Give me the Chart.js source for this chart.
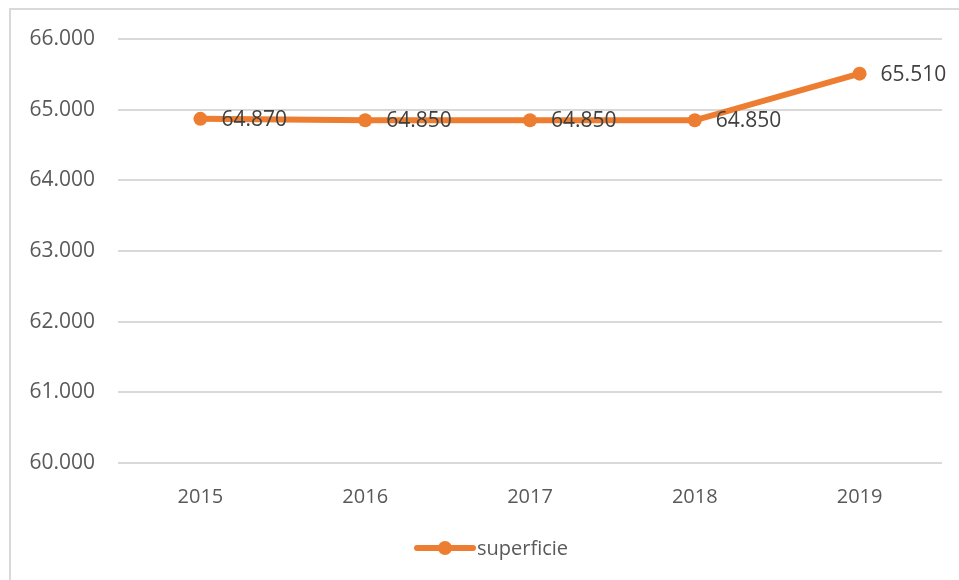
<!DOCTYPE html>
<html>
<head>
<meta charset="utf-8">
<script src="https://cdn.jsdelivr.net/npm/chart.js@4/dist/chart.umd.min.js"></script>
<style>
  html, body { margin: 0; padding: 0; background: #fff; }
  .wrap { position: relative; width: 959px; height: 580px; overflow: hidden; }
  .frame { position: absolute; left: 9px; top: 8px; width: 1000px; height: 700px;
           border-left: 2px solid #d9d9d9; border-top: 2px solid #d9d9d9; }
  canvas { position: absolute; left: 0; top: 0; }
</style>
</head>
<body>
<div class="wrap">
  <div class="frame"></div>
  <canvas id="myChart" width="959" height="580"></canvas>
</div>
<script>
'use strict'

// DATA
var years = ['2015', '2016', '2017', '2018', '2019'];
var superficie = [64870, 64850, 64850, 64850, 65510];
var yTicks = [60000, 61000, 62000, 63000, 64000, 65000, 66000];
var seriesName = 'superficie';

var orange = '#ED7D31';
var fontName = "'Open Sans', 'DejaVu Sans', sans-serif";

// 64870 -> "64.870"
function fmt(v) {
	var s = Math.round(v).toString();
	return s.replace(/\B(?=(\d{3})+(?!\d))/g, '.');
}

// etichette dei valori accanto ai punti
var valueLabels = {
	id: 'valueLabels',
	afterDatasetsDraw: function(chart) {
		var ctx = chart.ctx;
		var meta = chart.getDatasetMeta(0);
		ctx.save();
		ctx.font = '21px ' + fontName;
		ctx.fillStyle = '#404040';
		ctx.textAlign = 'left';
		ctx.textBaseline = 'middle';
		meta.data.forEach(function(pt, i) {
			ctx.fillText(fmt(chart.data.datasets[0].data[i]), pt.x + 21, pt.y + 1);
		});
		ctx.restore();
	}
};

// legenda in basso: linea + cerchio + testo
var bottomLegend = {
	id: 'bottomLegend',
	afterDraw: function(chart) {
		var ctx = chart.ctx;
		var y = 548;
		var x0 = 417, x1 = 473;
		ctx.save();
		ctx.strokeStyle = orange;
		ctx.lineWidth = 6;
		ctx.lineCap = 'round';
		ctx.beginPath();
		ctx.moveTo(x0, y);
		ctx.lineTo(x1, y);
		ctx.stroke();
		ctx.fillStyle = orange;
		ctx.beginPath();
		ctx.arc((x0 + x1) / 2, y, 7, 0, Math.PI * 2);
		ctx.fill();
		ctx.font = '20px ' + fontName;
		ctx.fillStyle = '#595959';
		ctx.textAlign = 'left';
		ctx.textBaseline = 'middle';
		ctx.fillText(seriesName, x1 + 4, y + 1);
		ctx.restore();
	}
};

var ctx = document.getElementById('myChart').getContext('2d');
var chart = new Chart(ctx, {
	type: 'line',
	data: {
		labels: years,
		datasets: [{
			label: seriesName,
			data: superficie,
			borderColor: orange,
			backgroundColor: orange,
			borderWidth: 6,
			pointRadius: 7,
			pointHoverRadius: 7,
			pointBorderWidth: 0,
			tension: 0
		}]
	},
	options: {
		responsive: false,
		animation: false,
		layout: { padding: { left: 0, right: 17, top: 39, bottom: 57 } },
		plugins: {
			legend: { display: false },
			tooltip: { enabled: false }
		},
		scales: {
			x: {
				offset: true,
				grid: { display: false, drawTicks: false },
				border: { display: false },
				ticks: {
					padding: 22,
					color: '#595959',
					font: { family: fontName, size: 20 }
				},
				afterFit: function(scale) { scale.height = 60; }
			},
			y: {
				min: yTicks[0],
				max: yTicks[yTicks.length - 1],
				afterBuildTicks: function(scale) {
					scale.ticks = yTicks.map(function(v) { return { value: v }; });
				},
				grid: { color: '#d9d9d9', lineWidth: 2, drawTicks: false },
				border: { display: false },
				ticks: {
					padding: 23,
					color: '#595959',
					font: { family: fontName, size: 21 },
					callback: function(v) { return fmt(v); }
				},
				afterFit: function(scale) { scale.width = 118; }
			}
		}
	},
	plugins: [valueLabels, bottomLegend]
});
</script>
</body>
</html>
